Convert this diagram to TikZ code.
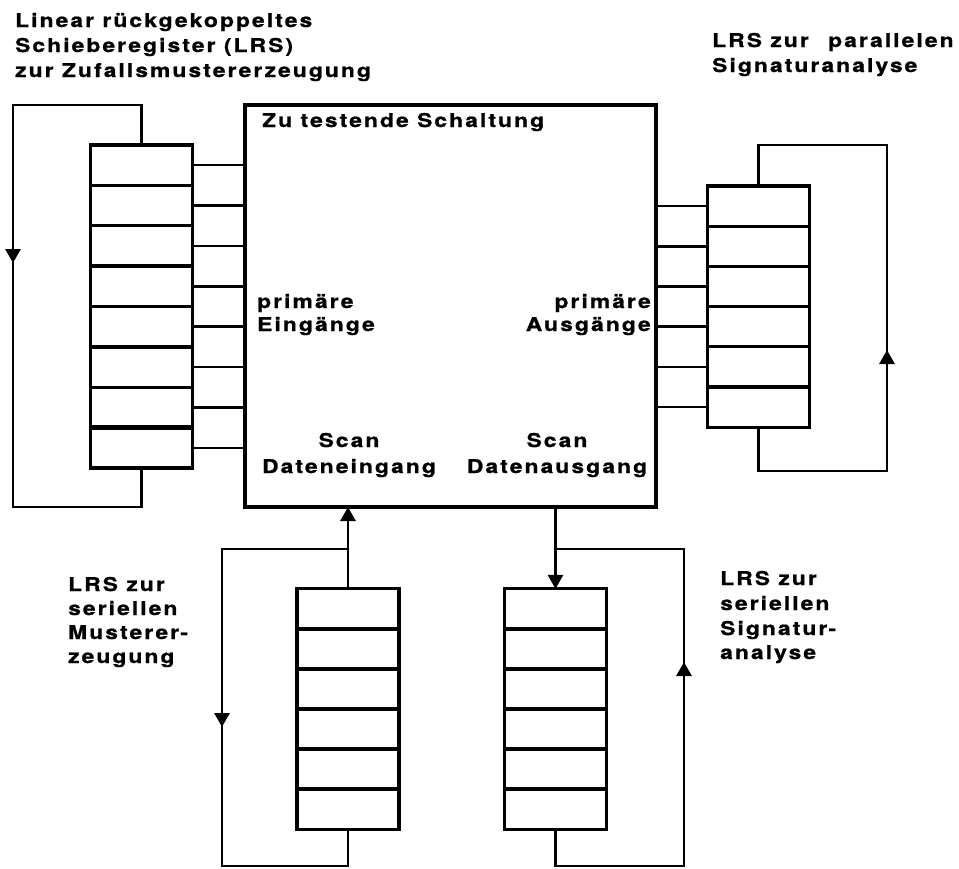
\documentclass[tikz,border=0pt]{standalone}
\usepackage{fontspec}
\newfontfamily\lblfont{texgyreheros}[Extension=.otf, UprightFont=*-bold, FakeStretch=1.2, FakeBold=1, LetterSpace=11]
\usetikzlibrary{arrows.meta}
\begin{document}
\begin{tikzpicture}[x=1pt,y=-1pt,
  wire/.style={line width=2.9pt},
  conn/.style={line width=2.5pt},
  cell/.style={draw, line width=3.2pt, minimum width=102pt, minimum height=40.3pt, inner sep=0pt, outer sep=0pt},
  tip/.style={-{Triangle[width=15pt,length=14pt]}, line width=2.9pt},
  lbl/.style={inner sep=0pt, anchor=base west, font=\lblfont\fontsize{19pt}{24.5pt}\selectfont},
  lblr/.style={lbl, anchor=base east},
  lblc/.style={lbl, anchor=base}]
\useasboundingbox (0,0) rectangle (959,868);
% main circuit
\node[draw, line width=3.2pt, minimum width=411pt, minimum height=402pt, inner sep=0pt, outer sep=0pt] (dut) at (450.5,306) {};
% registers
\foreach \i in {1,...,8} \node[cell] (L\i) at (141.5,{145+40.375*(\i-0.5)}) {};
\foreach \i in {1,...,6} \node[cell] (R\i) at (758.5,{186+40.2*(\i-0.5)}) {};
\foreach \i in {1,...,6} \node[cell] (B\i) at (348,{589+40*(\i-0.5)}) {};
\foreach \i in {1,...,6} \node[cell] (C\i) at (555.5,{589+40*(\i-0.5)}) {};
\draw[line width=5pt] (L8.north west) -- (L8.north east);
% parallel connections
\foreach \i in {1,...,8} \draw[conn] (L\i.east) -- (L\i.east -| dut.west);
\foreach \i in {1,...,6} \draw[conn] (R\i.west) -- (R\i.west -| dut.east);
% left feedback loop
\coordinate (lt) at (13,105);
\coordinate (lb) at (13,507);
\coordinate (la) at (13,263);
\draw[wire] (L1.north) |- (lt) -- (lb) -| (L8.south);
\draw[tip] (lt) -- (la);
% right feedback loop
\coordinate (rt) at (887,145);
\coordinate (rb) at (887,471);
\coordinate (ra) at (887,350);
\draw[wire] (R1.north) |- (rt) -- (rb) -| (R6.south);
\draw[tip] (rb) -- (ra);
% bottom left loop
\coordinate (blt) at (222,549);
\coordinate (blb) at (222,866);
\coordinate (bla) at (222,727);
\draw[tip] (B1.north) -- (B1.north |- dut.south);
\draw[wire] (blt -| B1.north) -- (blt) -- (blb) -| (B6.south);
\draw[tip] (blt) -- (bla);
% bottom right loop
\coordinate (brt) at (684,549);
\coordinate (brb) at (684,866);
\coordinate (bra) at (684,662);
\draw[tip] (C1.north |- dut.south) -- (C1.north);
\draw[wire] (brt -| C1.north) -- (brt) -- (brb) -| (C6.south);
\draw[tip] (brb) -- (bra);
% labels
\node[lbl] (t1a) at (15,27) {Linear rückgekoppeltes};
\node[lbl] (t1b) at (15,52) {Schieberegister (LRS)};
\node[lbl] (t1c) at (15,77) {zur Zufallsmustererzeugung};
\node[lbl] (t2a) at (712,47) {LRS zur\hspace{11pt} parallelen};
\node[lbl] (t2b) at (712,72) {Signaturanalyse};
\node[lbl] (t3) at (262,127) {Zu testende Schaltung};
\node[lbl] (t4a) at (257,308) {primäre};
\node[lbl] (t4b) at (257,331) {Eingänge};
\node[lblr] (t5a) at (651,308) {primäre};
\node[lblr] (t5b) at (651,331) {Ausgänge};
\node[lblc] (t6a) at (349,447) {Scan};
\node[lblc] (t6b) at (349,473) {Dateneingang};
\node[lblc] (t7a) at (557,447) {Scan};
\node[lblc] (t7b) at (557,473) {Datenausgang};
\node[lbl] (t8a) at (68,591) {LRS zur};
\node[lbl] (t8b) at (68,615) {seriellen};
\node[lbl] (t8c) at (68,639) {Musterer-};
\node[lbl] (t8d) at (68,663) {zeugung};
\node[lbl] (t9a) at (720,585) {LRS zur};
\node[lbl] (t9b) at (720,610) {seriellen};
\node[lbl] (t9c) at (720,635) {Signatur-};
\node[lbl] (t9d) at (720,659) {analyse};
\end{tikzpicture}
\end{document}
